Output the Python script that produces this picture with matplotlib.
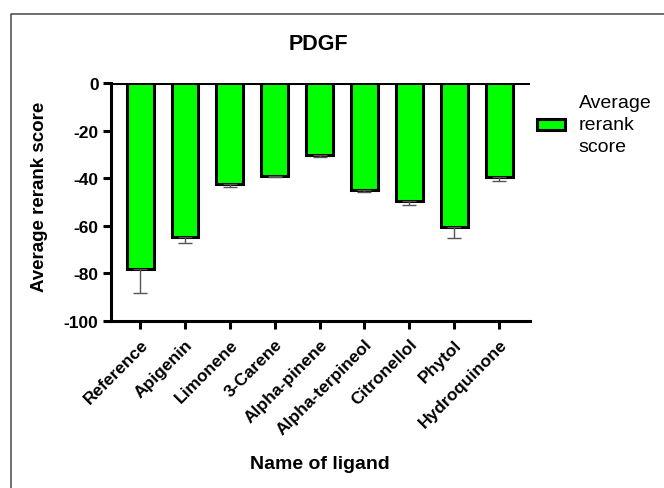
import matplotlib
matplotlib.use("Agg")
import matplotlib.pyplot as plt
from matplotlib.lines import Line2D
import numpy as np

plt.rcParams['font.family'] = ['Liberation Sans', 'DejaVu Sans']

ligands = ["Reference", "Apigenin", "Limonene", "3-Carene", "Alpha-pinene",
           "Alpha-terpineol", "Citronellol", "Phytol", "Hydroquinone"]
scores = [-78.2, -64.8, -42.4, -38.9, -30.1, -44.8, -49.7, -60.6, -39.6]
errors = [10.0, 2.4, 1.1, 0.8, 1.1, 1.2, 1.4, 4.5, 1.4]
yticks = [0, -20, -40, -60, -80, -100]

W, H = 664, 489
fig = plt.figure(figsize=(W/100, H/100), dpi=100)
fig.patch.set_facecolor('white')

ax = fig.add_axes([111/W, 1-322/H, (530-111)/W, (322-84)/H])
x = np.arange(len(ligands))
ax.axhline(0, color='black', lw=2.2, zorder=1)
ax.bar(x, scores, width=0.6, color='#00ff00', edgecolor='black', linewidth=2.2,
       zorder=2, label='Average\nrerank\nscore')
lower = np.array(errors)
ax.errorbar(x, scores, yerr=[lower, np.zeros_like(lower)], fmt='none',
            ecolor='#555555', elinewidth=1.0, capsize=5, capthick=1.0, zorder=3)

ax.set_xlim(-0.65, 8.69)
ax.set_ylim(-100, 0)
ax.set_yticks(yticks)
ax.set_yticklabels([str(v) for v in yticks], fontsize=12.5, fontweight='bold')
ax.set_xticks(x)
ax.set_xticklabels(ligands, rotation=45, ha='right', rotation_mode='anchor',
                   fontsize=12.5, fontweight='bold')
ax.tick_params(axis='both', length=6, width=2.2, direction='out', pad=3)
ax.tick_params(axis='x', pad=5)
for s in ['top', 'right']:
    ax.spines[s].set_visible(False)
for s in ['left', 'bottom']:
    ax.spines[s].set_linewidth(2.2)

fig.text(318/W, 1-45/H, 'PDGF', ha='center', va='center', fontsize=15.5, fontweight='bold')
fig.text(40/W, 1-197/H, 'Average rerank score', ha='center', va='center',
         rotation=90, fontsize=13.5, fontweight='bold')
fig.text(320/W, 1-465/H, 'Name of ligand', ha='center', va='center',
         fontsize=14, fontweight='bold')

handles, labels = ax.get_legend_handles_labels()
leg = fig.legend(handles, labels, loc='upper left', bbox_to_anchor=(537/W, 1-95/H),
                 frameon=False, fontsize=14, handlelength=1.45, handleheight=0.5,
                 handletextpad=0.7, borderpad=0, borderaxespad=0, labelspacing=0.2)
for t in leg.get_texts():
    t.set_linespacing(1.4)

fig.add_artist(Line2D([11/W, 11/W, 1.0], [0, 1-15/H, 1-15/H],
                      transform=fig.transFigure, color='#555555', lw=1.2))

fig.savefig('out.png', dpi=100, facecolor='white')
